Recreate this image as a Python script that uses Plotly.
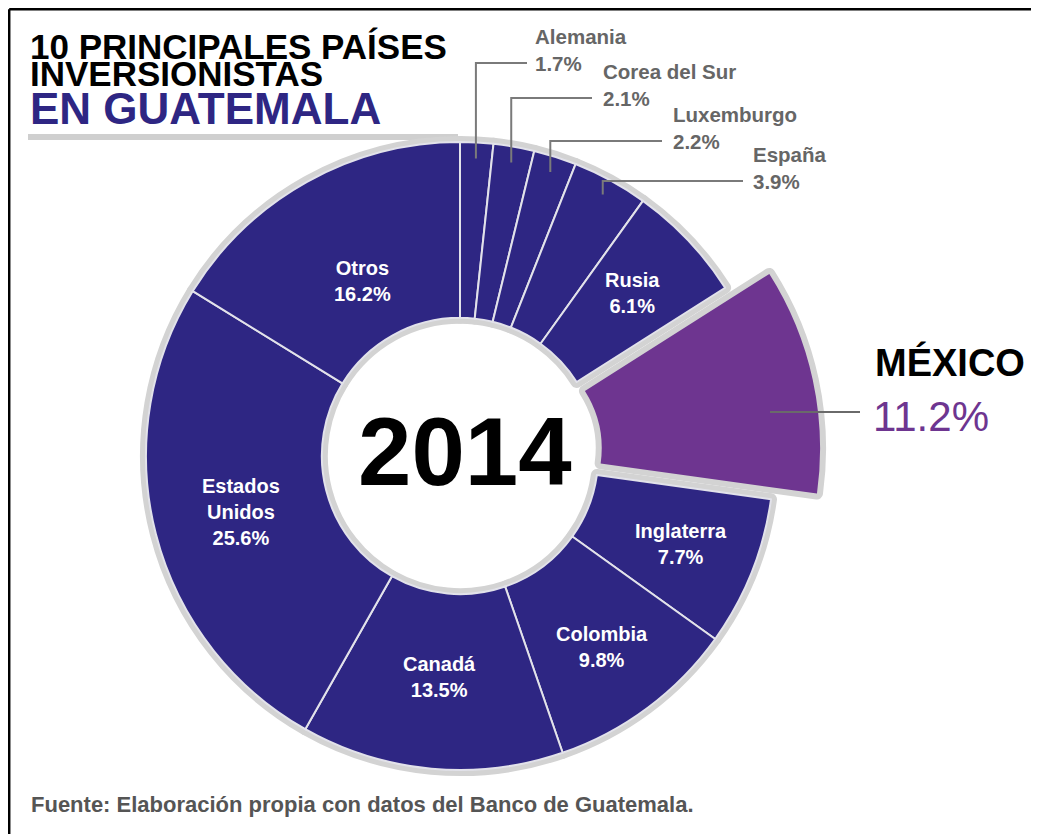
import math
import plotly.graph_objects as go

# Inversión extranjera en Guatemala 2014, % por país (sentido horario desde las 12)
countries = ['Alemania', 'Corea del Sur', 'Luxemburgo', 'España', 'Rusia', 'México',
             'Inglaterra', 'Colombia', 'Canadá', 'Estados Unidos', 'Otros']
shares = [1.7, 2.1, 2.2, 3.9, 6.1, 11.2, 7.7, 9.8, 13.5, 25.6, 16.2]
highlight = 'México'
small_countries = ['Alemania', 'Corea del Sur', 'Luxemburgo', 'España']
year = '2014'

# the page has an 8px body margin, so the figure is placed at (8, 8)
OX, OY = 8, 8
W, H = 1031, 826
CX, CY = 460, 456          # pie centre in page pixels
R_MAIN, HOLE_MAIN = 314, 0.44
R_MEX, HOLE_MEX, PULL_MEX = 326, 0.33, 0.107

BLUE = '#2E2683'
PURPLE = '#6E3590'
BORDER = '#d3d3d3'
DIVIDER = '#e2e2ea'
GREY_TXT = '#666666'
FONT = 'Liberation Sans, Arial, sans-serif'


def px(x, y):
    return (x - OX) / W, 1 - (y - OY) / H


def domain(r, pull):
    side = r * (2 + 2 * pull)
    x0, y1 = px(CX - side / 2, CY - side / 2)
    x1, y0 = px(CX + side / 2, CY + side / 2)
    return dict(x=[x0, x1], y=[y0, y1])


def polar(frac, r):
    a = 2 * math.pi * frac
    return CX + r * math.sin(a), CY - r * math.cos(a)


total = sum(shares)
mids = {}
cum = 0
for c, v in zip(countries, shares):
    mids[c] = (cum + v / 2) / total
    cum += v

is_mex = [c == highlight for c in countries]
clear = 'rgba(0,0,0,0)'

fig = go.Figure()

# grey border underneath the main ring
fig.add_trace(go.Pie(
    labels=countries, values=shares, sort=False, direction='clockwise', rotation=0,
    hole=HOLE_MAIN, domain=domain(R_MAIN, 0),
    marker=dict(colors=[clear if m else BORDER for m in is_mex],
                line=dict(color=BORDER, width=[0 if m else 12 for m in is_mex])),
    textinfo='none', hoverinfo='skip'
))
# main ring
fig.add_trace(go.Pie(
    labels=countries, values=shares, sort=False, direction='clockwise', rotation=0,
    hole=HOLE_MAIN, domain=domain(R_MAIN, 0),
    marker=dict(colors=[clear if m else BLUE for m in is_mex],
                line=dict(color=DIVIDER, width=[0 if m else 2 for m in is_mex])),
    textinfo='none', hovertemplate='%{label}: %{value}%<extra></extra>'
))
# México slice, enlarged and pulled out
pulls = [PULL_MEX if m else 0 for m in is_mex]
fig.add_trace(go.Pie(
    labels=countries, values=shares, sort=False, direction='clockwise', rotation=0,
    hole=HOLE_MEX, domain=domain(R_MEX, PULL_MEX), pull=pulls,
    marker=dict(colors=[BORDER if m else clear for m in is_mex],
                line=dict(color=BORDER, width=[12 if m else 0 for m in is_mex])),
    textinfo='none', hoverinfo='skip'
))
fig.add_trace(go.Pie(
    labels=countries, values=shares, sort=False, direction='clockwise', rotation=0,
    hole=HOLE_MEX, domain=domain(R_MEX, PULL_MEX), pull=pulls,
    marker=dict(colors=[PURPLE if m else clear for m in is_mex],
                line=dict(color=PURPLE, width=0)),
    textinfo='none', hoverinfo='skip'
))

annotations = []
shapes = []

# labels inside the ring
label_r = {'Otros': 200, 'Canadá': 222, 'Estados Unidos': 226}
for c, v in zip(countries, shares):
    if c in small_countries or c == highlight:
        continue
    x, y = polar(mids[c], label_r.get(c, 238))
    ax, ay = px(x, y)
    name = c.replace('Estados ', 'Estados<br>')
    annotations.append(dict(x=ax, y=ay, xref='paper', yref='paper', showarrow=False,
                            xanchor='center', yanchor='middle',
                            text=f'{name}<br>{v:.1f}%', align='center',
                            font=dict(family=FONT, size=20, color='white', weight='bold')))

# callouts for the small slices: (text x, leader y, end of horizontal line)
callouts = {'Alemania': (533, 63, 527), 'Corea del Sur': (601, 98, 592),
            'Luxemburgo': (671, 141, 662), 'España': (751, 181, 743)}
for c, v in zip(countries, shares):
    if c not in callouts:
        continue
    tx, ly, lx = callouts[c]
    sx, sy = polar(mids[c], 298)
    x0, y0 = px(sx, sy)
    _, y1 = px(0, ly)
    x2, _ = px(lx, 0)
    shapes.append(dict(type='path', xref='paper', yref='paper',
                       path=f'M {x0} {y0} L {x0} {y1} L {x2} {y1}',
                       line=dict(color='#7a7a7a', width=2)))
    ax, ay = px(tx, ly - 13)
    annotations.append(dict(x=ax, y=ay, xref='paper', yref='paper', showarrow=False,
                            xanchor='left', yanchor='middle', align='left',
                            text=f'{c}<br>{v:.1f}%',
                            font=dict(family=FONT, size=20.5, color=GREY_TXT, weight='bold')))

# México callout
mex_val = shares[countries.index(highlight)]
x0, y0 = px(770, 412)
x1, _ = px(860, 412)
shapes.append(dict(type='line', xref='paper', yref='paper', x0=x0, y0=y0, x1=x1, y1=y0,
                   line=dict(color='#6a6a6a', width=2)))
ax, ay = px(873, 362)
annotations.append(dict(x=ax, y=ay, xref='paper', yref='paper', showarrow=False,
                        xanchor='left', yanchor='middle', text=highlight.upper(),
                        font=dict(family=FONT, size=38, color='black', weight='bold')))
ax, ay = px(871, 416)
annotations.append(dict(x=ax, y=ay, xref='paper', yref='paper', showarrow=False,
                        xanchor='left', yanchor='middle', text=f'{mex_val:.1f}%',
                        font=dict(family=FONT, size=42, color=PURPLE)))

# centre year
ax, ay = px(465, 452)
annotations.append(dict(x=ax, y=ay, xref='paper', yref='paper', showarrow=False,
                        xanchor='center', yanchor='middle',
                        text=year, font=dict(family=FONT, size=96, color='black', weight='bold')))

# title
for txt, y, size, col in [('10 PRINCIPALES PAÍSES', 46, 35, 'black'),
                          ('INVERSIONISTAS', 74, 35, 'black'),
                          ('EN GUATEMALA', 108, 44, BLUE)]:
    ax, ay = px(28, y)
    annotations.append(dict(x=ax, y=ay, xref='paper', yref='paper', showarrow=False,
                            xanchor='left', yanchor='middle', text=txt,
                            font=dict(family=FONT, size=size, color=col, weight='bold')))

# source
ax, ay = px(29, 804)
annotations.append(dict(x=ax, y=ay, xref='paper', yref='paper', showarrow=False,
                        xanchor='left', yanchor='middle',
                        text='Fuente: Elaboración propia con datos del Banco de Guatemala.',
                        font=dict(family=FONT, size=22, color='#555555', weight='bold')))

# grey bar under title and outer frame
bx0, by0 = px(28, 134)
bx1, by1 = px(458, 140)
shapes.insert(0, dict(type='rect', xref='paper', yref='paper', x0=bx0, y0=by1, x1=bx1, y1=by0,
                      fillcolor='#cfcfcf', line=dict(width=0), layer='below'))
fx, fy = 1.2 / W, 1 - 1.2 / H
shapes.append(dict(type='line', xref='paper', yref='paper', x0=fx, y0=fy, x1=1, y1=fy,
                   line=dict(color='black', width=2.5)))
shapes.append(dict(type='line', xref='paper', yref='paper', x0=fx, y0=fy, x1=fx, y1=0,
                   line=dict(color='black', width=2.5)))

fig.update_layout(
    width=W, height=H,
    margin=dict(l=0, r=0, t=0, b=0),
    paper_bgcolor='white',
    plot_bgcolor='white',
    showlegend=False,
    annotations=annotations,
    shapes=shapes,
)

fig.write_html("out.html")
